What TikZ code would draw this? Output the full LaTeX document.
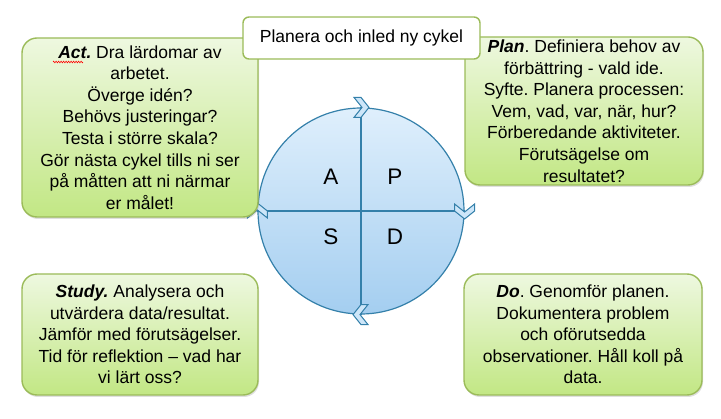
\documentclass[tikz,border=0pt]{standalone}
\usepackage{fontspec}
\setmainfont{Liberation Sans}
\frenchspacing
\usetikzlibrary{shadows,decorations.pathmorphing}
\definecolor{gborder}{RGB}{155,187,89}
\definecolor{gtop}{RGB}{238,248,224}
\definecolor{gbot}{RGB}{194,231,132}
\definecolor{ctop}{RGB}{223,239,252}
\definecolor{cbot}{RGB}{164,206,240}
\definecolor{cborder}{RGB}{52,128,170}
\definecolor{chevfill}{RGB}{205,230,249}
\tikzset{
  greenbox/.style={draw=gborder, line width=1.4pt, rounded corners=15pt,
    top color=gtop, bottom color=gbot, align=center,
    font=\fontsize{17.5}{21.6}\selectfont, inner sep=0pt,
    drop shadow={opacity=0.25, shadow xshift=1pt, shadow yshift=-2pt}},
  whitebox/.style={draw=gborder, line width=1.4pt, rounded corners=6pt,
    fill=white, align=center, font=\fontsize{17.5}{21.6}\selectfont, inner sep=0pt},
  letter/.style={font=\fontsize{22.5}{24}\selectfont, inner sep=0pt},
  chev/.style={draw=cborder, fill=chevfill, line width=1pt, line join=miter}
}
\newcommand{\bfit}[1]{\textbf{\textit{#1}}}
\newcommand{\chevpath}{(-7,-10) -- (0,-10) -- (8,0) -- (0,10) -- (-7,10) -- (1,0) -- cycle}
\begin{document}
\begin{tikzpicture}[x=1pt, y=-1pt]
\useasboundingbox (0,0) rectangle (721,419);
% circle
\node[circle, draw=cborder, line width=1.2pt, top color=ctop, bottom color=cbot,
  minimum size=206pt, inner sep=0pt] (cyc) at (361,211) {};
\draw[cborder, line width=1.1pt] (cyc.north) -- (cyc.south);
\draw[cborder, line width=1.1pt] (cyc.west) -- (cyc.east);
\node[letter] (la) at (331,177) {A};
\node[letter] (lp) at (395,177) {P};
\node[letter] (ls) at (331,237) {S};
\node[letter] (ld) at (395,237) {D};
% chevrons
\begin{scope}[shift={(cyc.north)}]
  \draw[chev] \chevpath;
\end{scope}
\begin{scope}[shift={(cyc.east)}, rotate=-90]
  \draw[chev] \chevpath;
\end{scope}
\begin{scope}[shift={(cyc.south)}, rotate=180]
  \draw[chev] \chevpath;
\end{scope}
\begin{scope}[shift={(cyc.west)}, rotate=90]
  \draw[chev] \chevpath;
\end{scope}
% boxes
\node[greenbox, minimum width=236pt, minimum height=179pt] (act) at (140,127.5)
 {\bfit{Act.} Dra lärdomar av\\arbetet.\\Överge idén?\\Behövs justeringar?\\Testa i större skala?\\Gör nästa cykel tills ni ser\\på måtten att ni närmar\\er målet!};
\node[greenbox, minimum width=238pt, minimum height=148pt] (plan) at (584,111)
 {\bfit{Plan}. Definiera behov av\\förbättring - vald ide.\\Syfte. Planera processen:\\Vem, vad, var, när, hur?\\Förberedande aktiviteter.\\Förutsägelse om\\resultatet?};
\node[greenbox, minimum width=236pt, minimum height=121pt] (study) at (140,334.5)
 {\bfit{Study.} Analysera och\\utvärdera data/resultat.\\Jämför med förutsägelser.\\Tid för reflektion – vad har\\vi lärt oss?};
\node[greenbox, minimum width=238pt, minimum height=121pt] (do) at (583,334.5)
 {\bfit{Do}. Genomför planen.\\Dokumentera problem\\och oförutsedda\\observationer. Håll koll på\\data.};
\node[whitebox, minimum width=237pt, minimum height=42pt] (ny) at (361.5,38)
 {Planera och inled ny cykel};
% spell-check squiggle
\coordinate (sq1) at (53,62);
\coordinate (sq2) at (83,62);
\draw[red, line width=0.6pt, decorate, decoration={zigzag, segment length=2.5pt, amplitude=0.8pt}] (sq1) -- (sq2);
\end{tikzpicture}
\end{document}
